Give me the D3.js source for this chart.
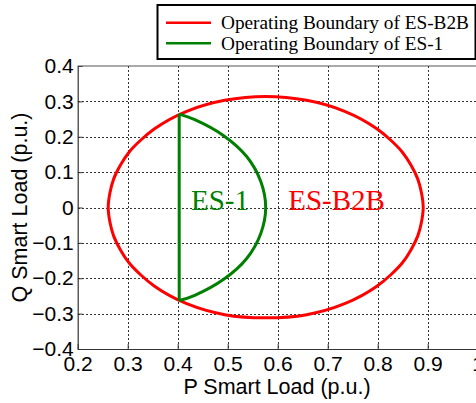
<!DOCTYPE html>
<html>
<head>
<meta charset="utf-8">
<script src="https://cdn.jsdelivr.net/npm/d3@7/dist/d3.min.js"></script>
<style>
  html, body { margin: 0; padding: 0; background: #fff; overflow: hidden; }
  svg { display: block; }
</style>
</head>
<body>
<svg id="chart" width="476" height="403"></svg>
<script>
// Tick values on both axes
const xTicks = [0.2, 0.3, 0.4, 0.5, 0.6, 0.7, 0.8, 0.9, 1.0];
const yTicks = [-0.4, -0.3, -0.2, -0.1, 0, 0.1, 0.2, 0.3, 0.4];

// Operating boundary of ES-B2B (P, Q in p.u.), traced around the closed curve
const b2bP = [0.891, 0.880, 0.849, 0.799, 0.734, 0.658, 0.576, 0.494, 0.418, 0.353, 0.303, 0.272, 0.261,
              0.272, 0.303, 0.353, 0.418, 0.494, 0.576, 0.658, 0.734, 0.799, 0.849, 0.880];
const b2bQ = [0.000, 0.081, 0.157, 0.222, 0.272, 0.303, 0.314, 0.303, 0.272, 0.222, 0.157, 0.081, 0.000,
              -0.081, -0.157, -0.222, -0.272, -0.303, -0.312, -0.303, -0.272, -0.222, -0.157, -0.081];

// Operating boundary of ES-1: outer arc, then the straight edge at P = 0.403
const es1P = [0.403, 0.433, 0.492, 0.538, 0.566, 0.576, 0.566, 0.538, 0.492, 0.433, 0.403, 0.403];
const es1Q = [0.264, 0.249, 0.203, 0.144, 0.074, 0.000, -0.074, -0.144, -0.203, -0.249, -0.263, 0.264];

const legendItems = ["Operating Boundary of ES-B2B", "Operating Boundary of ES-1"];
const legendColors = ["#ff0000", "#008000"];

const svg = d3.select("#chart");
const plotLeft = 77.7, plotRight = 477.7, plotTop = 66, plotBottom = 349;

const x = d3.scaleLinear().domain([0.2, 1.0]).range([plotLeft, plotRight]);
const y = d3.scaleLinear().domain([-0.4, 0.4]).range([plotBottom, plotTop]);

// Grid lines
const grid = svg.append("g").attr("stroke", "#333").attr("stroke-width", 1)
  .attr("stroke-dasharray", "2,2").attr("shape-rendering", "crispEdges");
grid.selectAll(".gx").data(xTicks.slice(1, -1)).join("line")
  .attr("x1", d => Math.round(x(d)) + 0.5).attr("x2", d => Math.round(x(d)) + 0.5)
  .attr("y1", plotTop).attr("y2", plotBottom);
grid.selectAll(".gy").data(yTicks.slice(1, -1)).join("line")
  .attr("y1", d => Math.round(y(d)) + 0.5).attr("y2", d => Math.round(y(d)) + 0.5)
  .attr("x1", plotLeft).attr("x2", plotRight);

// Axes
const xAxis = svg.append("g").attr("transform", `translate(0,${plotBottom})`)
  .call(d3.axisBottom(x).tickValues(xTicks).tickSizeInner(-5).tickSizeOuter(0)
    .tickFormat(d => d === 1 ? "1" : d3.format(".1f")(d)));
const yAxis = svg.append("g").attr("transform", `translate(${plotLeft},0)`)
  .call(d3.axisLeft(y).tickValues(yTicks).tickSizeInner(-5).tickSizeOuter(0)
    .tickFormat(d => d === 0 ? "0" : d3.format(".1f")(d)));

[xAxis, yAxis].forEach(a => {
  a.select(".domain").attr("stroke", "#333").attr("stroke-width", 1.2);
  a.selectAll(".tick line").attr("stroke", "#333");
  a.selectAll("text").attr("font-family", "Liberation Sans, Arial, sans-serif")
    .attr("font-size", 21).attr("fill", "#000");
});
xAxis.selectAll("text").attr("dy", "0.95em").attr("y", 2);
yAxis.selectAll("text").attr("x", -4);

// Top frame line
svg.append("line").attr("x1", plotLeft).attr("x2", plotRight).attr("y1", plotTop).attr("y2", plotTop)
  .attr("stroke", "#555").attr("stroke-width", 1.2);

// Axis titles
svg.append("text").attr("x", 277).attr("y", 394).attr("text-anchor", "middle")
  .attr("font-family", "Liberation Sans, Arial, sans-serif").attr("font-size", 21.5)
  .text("P Smart Load (p.u.)");
svg.append("text").attr("transform", `translate(27,${(plotTop + plotBottom) / 2}) rotate(-90)`)
  .attr("text-anchor", "middle")
  .attr("font-family", "Liberation Sans, Arial, sans-serif").attr("font-size", 21.5)
  .text("Q Smart Load (p.u.)");

// Boundaries
const closed = d3.line().x(d => x(d[0])).y(d => y(d[1])).curve(d3.curveCardinalClosed.tension(0.2));
svg.append("path").datum(d3.zip(b2bP, b2bQ))
  .attr("d", closed).attr("fill", "none").attr("stroke", legendColors[0]).attr("stroke-width", 3);

const arcPts = d3.zip(es1P.slice(0, 11), es1Q.slice(0, 11));
svg.append("path").datum(arcPts)
  .attr("d", d3.line().x(d => x(d[0])).y(d => y(d[1])).curve(d3.curveCatmullRom.alpha(0.5)))
  .attr("fill", "none").attr("stroke", legendColors[1]).attr("stroke-width", 3);
svg.append("path").datum(d3.zip(es1P.slice(10), es1Q.slice(10)))
  .attr("d", d3.line().x(d => x(d[0])).y(d => y(d[1])))
  .attr("fill", "none").attr("stroke", legendColors[1]).attr("stroke-width", 3);

// Region labels
svg.append("text").attr("x", x(0.4265)).attr("y", y(-0.0065))
  .attr("font-family", "Liberation Serif, Times New Roman, serif").attr("font-size", 29)
  .attr("fill", legendColors[1]).text("ES-1");
svg.append("text").attr("x", x(0.621)).attr("y", y(-0.0065))
  .attr("font-family", "Liberation Serif, Times New Roman, serif").attr("font-size", 29)
  .attr("fill", legendColors[0]).text("ES-B2B");

// Legend
const lg = svg.append("g");
lg.append("rect").attr("x", 157.5).attr("y", 5).attr("width", 318).attr("height", 54)
  .attr("fill", "#fff").attr("stroke", "#000").attr("stroke-width", 2);
legendItems.forEach((t, i) => {
  const yy = 22.7 + i * 20.6;
  lg.append("line").attr("x1", 166).attr("x2", 211).attr("y1", yy).attr("y2", yy)
    .attr("stroke", legendColors[i]).attr("stroke-width", 2.5);
  lg.append("text").attr("x", 221).attr("y", yy + 6.5)
    .attr("font-family", "Liberation Serif, Times New Roman, serif").attr("font-size", 19.3)
    .text(t);
});
</script>
</body>
</html>
